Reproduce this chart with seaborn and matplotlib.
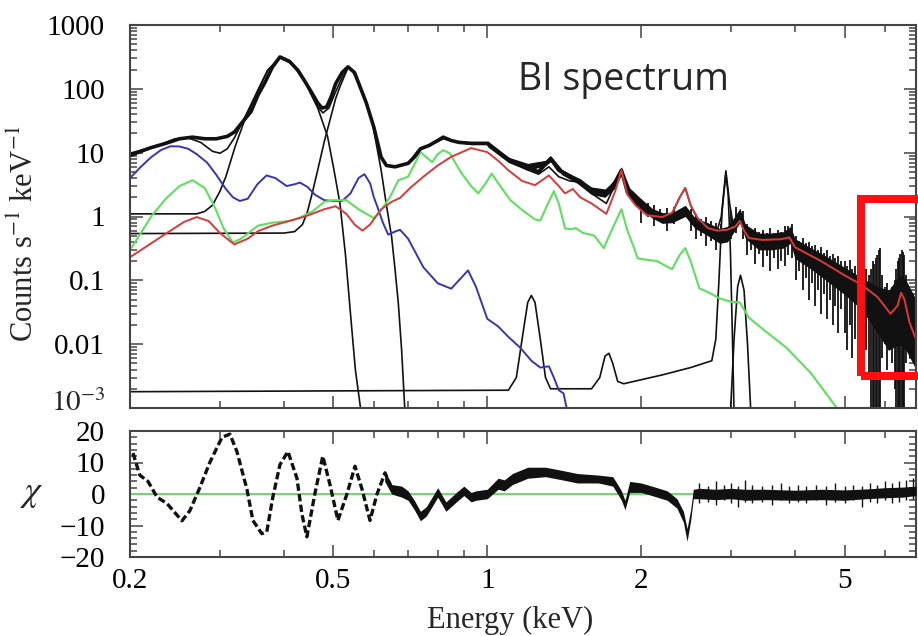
import matplotlib
matplotlib.use("Agg")
import matplotlib.pyplot as plt
import seaborn as sns
import numpy as np
from matplotlib.ticker import FixedLocator, NullFormatter, MultipleLocator
from matplotlib.patches import Rectangle

# ---------------- data ----------------
# observed spectrum (centre of the thick black data band)
obs_E = [0.200, 0.210, 0.220, 0.235, 0.250, 0.265, 0.280, 0.295, 0.310, 0.320,
         0.335, 0.345, 0.356, 0.367, 0.380, 0.393, 0.410, 0.426, 0.440, 0.454,
         0.466, 0.475, 0.485, 0.495, 0.505, 0.520, 0.534, 0.550, 0.560, 0.580,
         0.600, 0.620, 0.635, 0.660, 0.700, 0.720, 0.740, 0.770, 0.800, 0.820,
         0.850, 0.880, 0.930, 1.000, 1.060, 1.110, 1.190, 1.260, 1.330, 1.380,
         1.460, 1.520, 1.600, 1.710, 1.780, 1.830, 1.880, 1.950, 2.080, 2.250,
         2.440, 2.520, 2.650, 2.800, 2.900, 3.050, 3.120, 3.200, 3.400, 3.700,
         3.900, 4.000, 4.500, 5.000, 5.500, 6.000, 6.500, 6.900]
obs_V = [9.0, 10.5, 12.0, 14.0, 16.5, 17.5, 16.5, 16.5, 18.0, 21.0,
         33.0, 44.0, 80.0, 124.0, 220.0, 316.0, 270.0, 196.0, 130.0, 86.0,
         60.0, 50.0, 52.0, 75.0, 120.0, 180.0, 221.0, 180.0, 124.0, 60.0,
         25.0, 8.5, 6.3, 6.0, 6.8, 8.5, 11.5, 13.0, 15.5, 17.5,
         15.5, 14.5, 14.0, 14.0, 9.8, 7.5, 6.0, 5.0, 8.1, 5.3,
         4.2, 3.6, 2.6, 2.3, 3.5, 5.3, 2.4, 1.7, 1.1, 0.87,
         1.2, 0.8, 0.62, 0.48, 0.5, 0.8, 1.1, 0.6, 0.42, 0.43,
         0.55, 0.35, 0.21, 0.12, 0.07, 0.035, 0.05, 0.02]

# core scatter band of the data
band_E = [1.00, 1.10, 1.20, 1.30, 1.33, 1.40, 1.50, 1.60, 1.70, 1.78,
          1.83, 1.90, 2.00, 2.10, 2.20, 2.30, 2.44, 2.55, 2.70, 2.85,
          2.95, 3.05, 3.12, 3.20, 3.40, 3.60, 3.80, 3.92, 4.00, 4.30,
          4.60, 5.00, 5.40, 5.80, 6.10, 6.40, 6.60, 6.90]
band_lo = [12.5, 7.0, 5.3, 6.2, 7.2, 4.5, 3.3, 2.2, 2.0, 2.8,
           4.5, 2.0, 1.3, 0.95, 0.78, 0.8, 1.0, 0.65, 0.5, 0.38,
           0.4, 0.6, 0.8, 0.45, 0.3, 0.3, 0.32, 0.38, 0.22, 0.15,
           0.1, 0.06, 0.035, 0.015, 0.008, 0.01, 0.008, 0.004]
band_hi = [15.5, 8.5, 6.8, 7.6, 9.0, 5.5, 4.0, 2.9, 2.7, 3.8,
           6.0, 2.8, 1.9, 1.35, 1.15, 1.15, 1.5, 0.95, 0.8, 0.65,
           0.7, 1.0, 1.35, 0.75, 0.55, 0.55, 0.58, 0.7, 0.45, 0.32,
           0.24, 0.16, 0.11, 0.08, 0.07, 0.12, 0.1, 0.05]

# individual noisy excursions of the data
spike_E = [2.00, 2.06, 2.12, 2.18, 2.25, 2.32, 2.50, 2.56, 2.62, 2.68,
           2.74, 2.80, 2.86, 3.00, 3.06, 3.16, 3.22, 3.28, 3.34, 3.40,
           3.46, 3.52, 3.58, 3.64, 3.70, 3.76, 3.82, 3.88, 3.95, 4.02,
           4.08, 4.14, 4.20, 4.26, 4.32, 4.38, 4.44, 4.50, 4.56, 4.62,
           4.68, 4.74, 4.80, 4.86, 4.92, 5.00, 5.06, 5.12, 5.18, 5.25,
           5.32, 5.38, 5.45, 5.52, 5.58, 5.64, 5.68, 5.72, 5.76, 5.80,
           5.84, 5.88, 5.93, 6.00, 6.06, 6.12, 6.20, 6.27, 6.31, 6.35,
           6.39, 6.43, 6.47, 6.51, 6.55, 6.60, 6.66, 6.72, 6.80, 6.86]
spike_lo = [0.8, 1.0, 0.7, 0.85, 0.6, 0.75, 0.6, 0.45, 0.5, 0.35,
            0.42, 0.3, 0.38, 0.45, 0.55, 0.45, 0.25, 0.3, 0.18, 0.26,
            0.16, 0.24, 0.14, 0.22, 0.15, 0.2, 0.17, 0.25, 0.22, 0.1,
            0.14, 0.07, 0.11, 0.05, 0.09, 0.04, 0.07, 0.03, 0.06, 0.025,
            0.05, 0.02, 0.04, 0.015, 0.035, 0.015, 0.008, 0.02, 0.006, 0.012,
            0.005, 0.01, 0.004, 0.008, 0.003, 0.0003, 0.0003, 0.0003, 0.0003, 0.0003,
            0.0003, 0.0003, 0.006, 0.01, 0.004, 0.008, 0.005, 0.002, 0.0003, 0.0003,
            0.0003, 0.0003, 0.0003, 0.0003, 0.0003, 0.005, 0.01, 0.006, 0.01, 0.005]
spike_hi = [1.9, 1.6, 1.5, 1.3, 1.35, 1.4, 1.3, 1.1, 0.9, 1.0,
            0.85, 0.8, 0.75, 1.2, 1.4, 1.2, 0.75, 0.62, 0.65, 0.58,
            0.62, 0.55, 0.66, 0.56, 0.62, 0.58, 0.7, 0.72, 0.75, 0.5,
            0.42, 0.46, 0.38, 0.4, 0.34, 0.36, 0.3, 0.33, 0.27, 0.3,
            0.24, 0.26, 0.22, 0.24, 0.2, 0.2, 0.17, 0.21, 0.15, 0.17,
            0.14, 0.13, 0.14, 0.15, 0.12, 0.15, 0.2, 0.18, 0.22, 0.25,
            0.3, 0.32, 0.12, 0.08, 0.09, 0.07, 0.08, 0.1, 0.15, 0.2,
            0.22, 0.26, 0.3, 0.28, 0.25, 0.12, 0.08, 0.07, 0.06, 0.05]

# total model (thin black)
tot_E = [0.200, 0.215, 0.230, 0.245, 0.260, 0.275, 0.290, 0.300, 0.310, 0.320,
         0.335, 0.356, 0.372, 0.393, 0.415, 0.440, 0.455, 0.466, 0.477, 0.490,
         0.505, 0.520, 0.534, 0.550, 0.560, 0.580, 0.595, 0.615, 0.635, 0.660,
         0.700, 0.730, 0.760, 0.800, 0.820, 0.860, 0.930, 1.000, 1.050, 1.100,
         1.190, 1.260, 1.320, 1.380, 1.450, 1.500, 1.600, 1.710, 1.780, 1.830,
         1.880, 1.950, 2.050, 2.200, 2.300, 2.380, 2.440, 2.500, 2.580, 2.700,
         2.820, 2.870, 2.930, 2.980, 3.030, 3.120, 3.180, 3.250]
tot_V = [9.8, 11.5, 13.5, 16.5, 17.0, 14.5, 10.5, 9.8, 11.5, 17.0,
         35.0, 96.0, 196.0, 310.0, 250.0, 130.0, 75.0, 52.0, 42.0, 50.0,
         90.0, 150.0, 215.0, 175.0, 124.0, 60.0, 32.0, 10.0, 6.2, 6.1,
         6.8, 10.5, 12.5, 15.0, 16.5, 15.0, 13.5, 13.5, 10.0, 7.5,
         5.5, 4.6, 6.0, 4.2, 3.6, 3.5, 2.3, 1.6, 3.2, 5.3,
         2.4, 1.6, 1.2, 0.98, 1.1, 2.0, 2.8, 1.5, 0.9, 0.66,
         0.62, 1.0, 5.2, 1.6, 0.7, 0.95, 0.62, 0.47]

# red component
red_E = [0.200, 0.220, 0.240, 0.255, 0.270, 0.285, 0.300, 0.320, 0.340, 0.356,
         0.380, 0.414, 0.440, 0.480, 0.505, 0.530, 0.550, 0.570, 0.590, 0.620,
         0.650, 0.675, 0.710, 0.750, 0.800, 0.850, 0.930, 1.000, 1.050, 1.100,
         1.170, 1.240, 1.320, 1.380, 1.420, 1.470, 1.520, 1.600, 1.710, 1.780,
         1.830, 1.880, 1.950, 2.050, 2.200, 2.300, 2.380, 2.440, 2.500, 2.580,
         2.700, 2.820, 2.950, 3.060, 3.120, 3.180, 3.250, 3.450, 3.750, 3.900,
         4.000, 4.500, 5.000, 5.400, 5.800, 6.150, 6.350, 6.450, 6.550, 6.700, 6.900]
red_V = [0.23, 0.38, 0.6, 0.82, 0.98, 0.85, 0.55, 0.365, 0.45, 0.59,
         0.72, 0.87, 1.0, 1.3, 1.45, 1.1, 0.75, 0.6, 0.75, 1.3,
         1.7, 1.95, 2.9, 4.2, 6.3, 8.6, 11.8, 10.2, 7.5, 5.3,
         3.6, 3.1, 4.4, 3.0, 2.3, 2.7, 2.0, 1.6, 1.1, 2.5,
         5.3, 2.2, 1.5, 1.05, 0.98, 1.15, 2.0, 2.8, 1.5, 0.95,
         0.66, 0.6, 0.62, 0.7, 0.85, 0.6, 0.46, 0.43, 0.44, 0.47,
         0.33, 0.2, 0.12, 0.085, 0.055, 0.03, 0.04, 0.064, 0.05, 0.022, 0.012]

# green component
green_E = [0.200, 0.210, 0.220, 0.235, 0.250, 0.265, 0.280, 0.293, 0.305, 0.318,
           0.330, 0.356, 0.380, 0.410, 0.430, 0.455, 0.480, 0.500, 0.530, 0.560,
           0.600, 0.620, 0.645, 0.670, 0.700, 0.720, 0.740, 0.760, 0.780, 0.800,
           0.820, 0.845, 0.870, 0.890, 0.930, 0.960, 0.990, 1.020, 1.060, 1.110,
           1.180, 1.240, 1.270, 1.310, 1.350, 1.380, 1.420, 1.460, 1.490, 1.540,
           1.580, 1.620, 1.690, 1.750, 1.830, 1.880, 1.930, 1.970, 2.050, 2.150,
           2.230, 2.300, 2.380, 2.440, 2.500, 2.600, 2.730, 2.850, 3.000, 3.120,
           3.250, 3.500, 3.850, 4.300, 4.830, 5.000]
green_V = [0.3, 0.55, 1.0, 1.9, 3.0, 3.7, 2.8, 1.4, 0.65, 0.39,
           0.45, 0.72, 0.8, 0.85, 0.96, 1.2, 1.7, 1.8, 1.8, 1.3,
           0.94, 1.25, 2.0, 3.7, 4.2, 6.5, 10.2, 8.5, 7.1, 9.5,
           10.9, 9.8, 6.5, 4.8, 3.0, 2.3, 3.2, 4.7, 3.0, 1.8,
           1.2, 0.9, 0.87, 1.5, 2.5, 1.6, 0.65, 0.63, 0.66, 0.55,
           0.53, 0.5, 0.32, 0.6, 1.3, 0.6, 0.35, 0.22, 0.21, 0.2,
           0.17, 0.15, 0.25, 0.32, 0.2, 0.075, 0.063, 0.052, 0.046, 0.045,
           0.026, 0.016, 0.0088, 0.0035, 0.001, 0.0007]

# blue component
blue_E = [0.200, 0.210, 0.220, 0.230, 0.240, 0.250, 0.260, 0.270, 0.283, 0.295,
          0.308, 0.318, 0.328, 0.340, 0.355, 0.370, 0.385, 0.405, 0.420, 0.430,
          0.445, 0.460, 0.480, 0.500, 0.520, 0.540, 0.560, 0.575, 0.590, 0.600,
          0.610, 0.625, 0.640, 0.660, 0.675, 0.700, 0.750, 0.800, 0.850, 0.880,
          0.917, 0.950, 1.000, 1.050, 1.100, 1.160, 1.220, 1.270, 1.320, 1.350,
          1.380, 1.410, 1.430, 1.450]
blue_V = [4.0, 6.0, 8.5, 11.0, 12.6, 12.5, 11.5, 9.5, 7.0, 4.5,
          2.7, 2.0, 1.75, 1.9, 3.2, 4.4, 4.0, 3.0, 3.2, 3.4,
          2.9, 2.2, 1.8, 1.75, 1.75, 2.3, 4.0, 4.6, 3.3, 2.0,
          1.4, 0.8, 0.52, 0.58, 0.62, 0.45, 0.16, 0.09, 0.074, 0.1,
          0.143, 0.08, 0.025, 0.019, 0.013, 0.0088, 0.0055, 0.0043, 0.0045, 0.003,
          0.0019, 0.0017, 0.001, 0.0007]

# black line components
g1_E = [0.200, 0.270, 0.280, 0.290, 0.300, 0.308, 0.321, 0.335, 0.356, 0.372,
        0.393, 0.415, 0.440, 0.466, 0.487, 0.500, 0.515, 0.528, 0.540, 0.552, 0.566]
g1_V = [1.1, 1.1, 1.2, 1.5, 2.5, 4.2, 12.3, 32.0, 95.0, 196.0,
        305.0, 250.0, 129.0, 50.0, 18.0, 6.0, 1.6, 0.25, 0.03, 0.004, 0.0009]

g2_E = [0.200, 0.400, 0.420, 0.435, 0.445, 0.455, 0.465, 0.480, 0.490, 0.505,
        0.515, 0.534, 0.545, 0.560, 0.580, 0.595, 0.620, 0.635, 0.650, 0.660,
        0.670, 0.680, 0.690]
g2_V = [0.54, 0.55, 0.58, 0.75, 1.2, 2.4, 5.0, 15.0, 28.0, 70.0,
        108.0, 215.0, 190.0, 124.0, 60.0, 32.0, 5.3, 1.5, 0.48, 0.15,
        0.043, 0.008, 0.0009]

g3_E = [0.200, 1.100, 1.140, 1.170, 1.200, 1.220, 1.240, 1.270, 1.300, 1.330,
        1.600, 1.660, 1.700, 1.730, 1.760, 1.800, 1.850, 2.200, 2.500, 2.750,
        2.800, 2.840, 2.880, 2.930, 2.960, 2.990, 3.020, 3.040]
g3_V = [0.0018, 0.0019, 0.003, 0.012, 0.045, 0.058, 0.045, 0.012, 0.003, 0.002,
        0.002, 0.003, 0.0065, 0.0072, 0.005, 0.0026, 0.0024, 0.0033, 0.0043, 0.0055,
        0.012, 0.1, 1.2, 4.7, 2.2, 0.3, 0.01, 0.0008]

g4_E = [2.990, 3.040, 3.090, 3.130, 3.180, 3.230, 3.280]
g4_V = [0.0008, 0.012, 0.08, 0.12, 0.07, 0.01, 0.0008]

# residuals (chi): low-energy points
chi_E = [0.2027, 0.209, 0.2169, 0.2259, 0.2362, 0.2528, 0.2619, 0.2739, 0.2865, 0.3027,
         0.3137, 0.3237, 0.3387, 0.3479, 0.3622, 0.3704, 0.3806, 0.393, 0.4074, 0.4243,
         0.4339, 0.4437, 0.4599, 0.4767, 0.4923, 0.5103, 0.5315, 0.5511, 0.5689, 0.5896,
         0.6086, 0.6309, 0.6541]
chi_V = [13.0, 6.0, 4.0, -1.0, -3.0, -8.5, -5.3, 2.0, 10.0, 18.0,
         19.0, 13.5, 1.5, -8.4, -12.6, -12.0, -1.0, 9.3, 13.5, 5.0,
         -6.4, -13.6, 0.0, 12.0, 3.0, -8.4, 0.0, 8.8, 1.5, -8.4,
         0.0, 6.7, 1.0]

# residuals (chi): dense band at higher energies
chib_E = [0.63, 0.65, 0.68, 0.70, 0.72, 0.74, 0.76, 0.78, 0.80, 0.83,
          0.85, 0.87, 0.90, 0.93, 0.95, 1.00, 1.05, 1.08, 1.12, 1.20,
          1.30, 1.40, 1.50, 1.65, 1.76, 1.80, 1.83, 1.86, 1.90, 2.00,
          2.10, 2.25, 2.35, 2.42, 2.46, 2.50, 2.53, 2.60, 2.80, 3.00,
          3.20, 3.50, 4.00, 4.50, 5.00, 5.50, 6.00, 6.50, 6.90]
chib_lo = [4.0, 0.0, -1.0, -2.0, -5.0, -8.5, -7.0, -4.0, -1.0, -5.5,
           -4.0, -2.5, -0.5, -2.5, -2.0, -1.5, 1.5, 1.0, 3.0, 5.0,
           5.5, 4.5, 3.5, 3.5, 2.5, 0.0, -2.0, -5.0, 0.5, 0.5,
           -0.5, -2.0, -4.5, -9.0, -15.0, -8.5, -1.5, -1.5, -1.8, -1.5,
           -2.0, -1.8, -2.0, -1.8, -2.0, -1.5, -1.2, -1.0, -0.5]
chib_hi = [7.5, 3.0, 2.5, 1.0, -2.0, -5.5, -4.0, -1.0, 2.0, -2.5,
           -1.0, 0.5, 2.5, 0.5, 1.0, 1.5, 5.0, 4.5, 6.5, 8.5,
           8.5, 7.5, 6.5, 6.0, 5.5, 3.0, 1.0, -2.0, 4.0, 3.5,
           2.5, 1.0, -1.5, -5.5, -11.0, -5.0, 1.5, 1.8, 1.5, 1.8,
           1.5, 1.5, 1.2, 1.5, 1.3, 1.6, 2.0, 2.2, 2.5]
chis_E = [2.60, 2.70, 2.80, 2.90, 3.00, 3.10, 3.20, 3.30, 3.45, 3.60,
          3.75, 3.90, 4.05, 4.20, 4.40, 4.60, 4.80, 5.00, 5.20, 5.40,
          5.60, 5.80, 6.00, 6.20, 6.40, 6.60, 6.80]
chis_lo = [-3.0, -2.5, -3.5, -2.0, -3.0, -4.0, -2.5, -3.0, -2.5, -3.5,
           -2.0, -3.0, -2.5, -3.0, -2.0, -3.5, -2.5, -3.0, -2.0, -4.0,
           -2.5, -3.0, -2.0, -3.0, -2.5, -2.0, -1.5]
chis_hi = [3.5, 2.5, 4.0, 3.0, 3.5, 2.5, 4.5, 3.0, 2.5, 3.0,
           3.5, 2.5, 3.0, 2.5, 3.0, 2.5, 3.5, 2.5, 3.0, 2.5,
           3.5, 3.0, 4.0, 3.5, 4.0, 4.5, 5.0]

x_ticks = [0.2, 0.5, 1, 2, 5]
x_ticklabels = ["0.2", "0.5", "1", "2", "5"]
x_minor = [0.3, 0.4, 0.6, 0.7, 0.8, 0.9, 3, 4, 6]
y_ticks = [1000, 100, 10, 1, 0.1, 0.01, 0.001]
y_ticklabels = ["1000", "100", "10", "1", "0.1", "0.01", ""]
y_bottom_label = r"$10^{-3}$"
chi_ticks = [-20, -10, 0, 10, 20]

# ---------------- drawing ----------------
sns.set_theme(style="ticks")
plt.rcParams["font.family"] = ["Liberation Serif", "DejaVu Serif"]
plt.rcParams["mathtext.fontset"] = "stix"
plt.rcParams["axes.linewidth"] = 1.5

W, H = 918, 636
fig = plt.figure(figsize=(W / 100, H / 100), dpi=100)
ax1 = fig.add_axes([130 / W, 1 - 408 / H, 786 / W, 383 / H])
ax2 = fig.add_axes([130 / W, 1 - 557 / H, 786 / W, 126 / H])

for ax in (ax1, ax2):
    ax.set_xscale("log")
    ax.set_xlim(0.2, 6.9)
    for s in ax.spines.values():
        s.set_color("#444444")
ax1.set_yscale("log")
ax1.set_ylim(1e-3, 1e3)

BLACK = "#111111"
kw = dict(estimator=None, sort=False, legend=False)
# components
sns.lineplot(x=g1_E, y=g1_V, ax=ax1, color=BLACK, lw=1.2, **kw)
sns.lineplot(x=g2_E, y=g2_V, ax=ax1, color=BLACK, lw=1.2, **kw)
sns.lineplot(x=g3_E, y=g3_V, ax=ax1, color=BLACK, lw=1.2, **kw)
sns.lineplot(x=g4_E, y=g4_V, ax=ax1, color=BLACK, lw=1.2, **kw)
sns.lineplot(x=blue_E, y=blue_V, ax=ax1, color="#3535b5", lw=1.4, **kw)
sns.lineplot(x=green_E, y=green_V, ax=ax1, color="#5ee05e", lw=1.5, **kw)
# data
ax1.fill_between(band_E, band_lo, band_hi, color=BLACK, lw=0)
ax1.vlines(spike_E, spike_lo, spike_hi, color=BLACK, lw=1.3)
sns.lineplot(x=obs_E, y=obs_V, ax=ax1, color=BLACK, lw=2.6, **kw)
sns.lineplot(x=tot_E, y=tot_V, ax=ax1, color=BLACK, lw=1.2, **kw)
sns.lineplot(x=red_E, y=red_V, ax=ax1, color="#d83a3a", lw=1.4, **kw)

# residual panel
ax2.set_ylim(-20, 20)
ax2.axhline(0, color="#66dd66", lw=1.4, zorder=1)
sns.lineplot(x=chi_E, y=chi_V, ax=ax2, color=BLACK, lw=2.4,
             linestyle=(0, (2.2, 1.0)), **kw)
ax2.fill_between(chib_E, chib_lo, chib_hi, color=BLACK, lw=0, zorder=3)
ax2.vlines(chis_E, chis_lo, chis_hi, color=BLACK, lw=1.0, zorder=3)

# ticks
ax1.yaxis.set_major_locator(FixedLocator(y_ticks))
ax1.set_yticklabels(y_ticklabels)
for ax in (ax1, ax2):
    ax.xaxis.set_major_locator(FixedLocator(x_ticks))
    ax.xaxis.set_minor_locator(FixedLocator(x_minor))
    ax.xaxis.set_minor_formatter(NullFormatter())
    ax.tick_params(which="both", direction="in", top=True, right=True,
                   colors="#444444", labelcolor="black", labelsize=21, width=1.1)
    ax.tick_params(which="major", length=9)
    ax.tick_params(which="minor", length=5)
    ax.tick_params(axis="y", pad=18)
    ax.tick_params(axis="x", pad=8)
    ax.set_xlabel("")
    ax.set_ylabel("")
ax1.tick_params(labelbottom=False)
ax2.set_xticklabels(x_ticklabels)
ax2.yaxis.set_major_locator(FixedLocator(chi_ticks))
ax2.yaxis.set_minor_locator(MultipleLocator(2))

# labels
fig.text(105 / W, 1 - 403 / H, y_bottom_label, ha="right", va="center", fontsize=21)
fig.text(25 / W, 1 - 233 / H, r"Counts s$^{-1}$ keV$^{-1}$", rotation=90,
         ha="center", va="center", fontsize=22)
fig.text(32 / W, 1 - 493 / H, r"$\chi$", ha="center", va="center", fontsize=26)
fig.text(510 / W, 1 - 620 / H, "Energy (keV)", ha="center", va="center", fontsize=22)
fig.text(518 / W, 1 - 90 / H, "BI spectrum", ha="left", va="baseline",
         fontsize=27, family=["Open Sans", "DejaVu Sans"])

fig.add_artist(Rectangle((861 / W, 1 - 376 / H), 0.2, 177 / H,
                         transform=fig.transFigure, fill=False,
                         ec="#ff1010", lw=5.8, clip_on=False))

fig.savefig("out.png", dpi=100)
